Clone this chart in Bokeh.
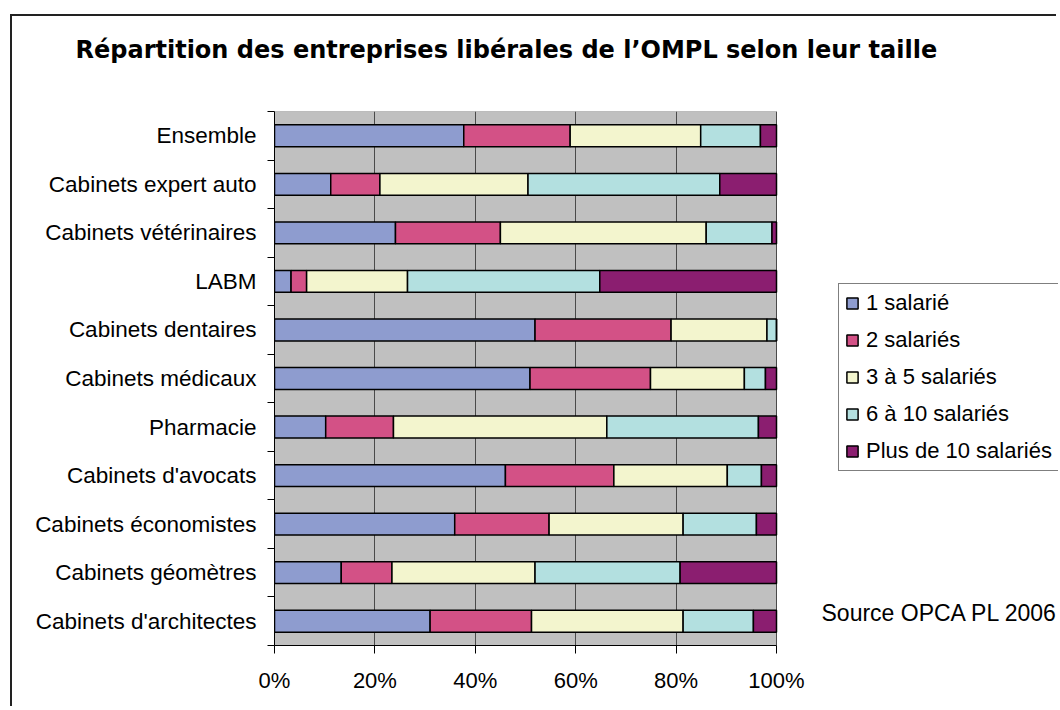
from bokeh.plotting import figure
from bokeh.models import (ColumnDataSource, Range1d, FixedTicker, Legend, LegendItem,
                          PrintfTickFormatter, Label, Title)
from bokeh.embed import file_html
from bokeh.resources import INLINE

title = "Répartition des entreprises libérales de l\u2019OMPL selon leur taille"
source_note = "Source OPCA PL 2006"

categories = ["Ensemble", "Cabinets expert auto", "Cabinets vétérinaires", "LABM",
              "Cabinets dentaires", "Cabinets médicaux", "Pharmacie", "Cabinets d'avocats",
              "Cabinets économistes", "Cabinets géomètres", "Cabinets d'architectes"]
series_names = ["1 salarié", "2 salariés", "3 à 5 salariés", "6 à 10 salariés", "Plus de 10 salariés"]
s1 = [37.7, 11.2, 24.1, 3.3, 51.9, 50.9, 10.2, 46.0, 35.9, 13.3, 31.0]
s2 = [21.2, 9.8, 20.9, 3.1, 27.1, 24.0, 13.5, 21.6, 18.8, 10.1, 20.2]
s3 = [26.0, 29.5, 41.0, 20.1, 19.1, 18.7, 42.5, 22.6, 26.7, 28.5, 30.2]
s4 = [11.9, 38.2, 13.1, 38.3, 1.9, 4.2, 30.2, 6.8, 14.6, 28.9, 14.0]
s5 = [3.2, 11.3, 0.9, 35.2, 0.0, 2.2, 3.6, 3.0, 4.0, 19.2, 4.6]
x_ticks = [0, 20, 40, 60, 80, 100]
colors = ["#8E9CCF", "#D35186", "#F3F5CE", "#B3E0E0", "#8B1E70"]

FONT = "Liberation Sans"
n = len(categories)
ypos = [n - 0.5 - i for i in range(n)]
keys = ["s1", "s2", "s3", "s4", "s5"]
src = ColumnDataSource(dict(y=ypos, cat=categories, s1=s1, s2=s2, s3=s3, s4=s4, s5=s5))

# layout (pixels)
W, H = 1046, 692
LEFT, TOP, BOTTOM = 262, 95, 63
PLOT_W = 502                      # width of the 0..100 % plot area
frame_w = W - LEFT
frame_h = H - TOP - BOTTOM
x_end = 100.0 * frame_w / PLOT_W  # frame extends right to hold legend and note

p = figure(width=W, height=H, x_range=Range1d(0, x_end), y_range=Range1d(0, n),
           output_backend="svg", toolbar_location=None, title=None,
           min_border_left=LEFT, min_border_right=0, min_border_top=TOP, min_border_bottom=BOTTOM)
p.margin = (14, 0, 0, 10)
p.styles = {"border-left": "2px solid #222", "border-top": "2px solid #222"}

# titles: spacer nearest the frame, then the real title
p.add_layout(Title(text=" ", text_font_size="10px", standoff=35), "above")
p.add_layout(Title(text=title, text_font="DejaVu Sans", text_font_size="24px",
                   text_font_style="bold", text_color="black", align="left",
                   offset=75 - 12 - LEFT, standoff=0), "above")

p.background_fill_color = "white"
p.border_fill_color = "white"
p.outline_line_color = None

# grey plot area
p.quad(left=[0], right=[100], bottom=[0], top=[n], fill_color="#C0C0C0",
       line_color="#8a8a8a", line_width=1, level="image")

renderers = p.hbar_stack(keys, y="y", height=0.45, color=colors, source=src,
                         line_color="black", line_width=1.5)

# grid
p.xgrid.ticker = FixedTicker(ticks=x_ticks)
p.xgrid.grid_line_color = "#4a4a4a"
p.xgrid.grid_line_width = 1
p.ygrid.grid_line_color = None

# x axis
p.xaxis.ticker = FixedTicker(ticks=x_ticks)
p.xaxis.bounds = (0, 100)
p.xaxis.formatter = PrintfTickFormatter(format="%d%%")
p.xaxis.axis_line_color = "black"
p.xaxis.major_tick_line_color = "black"
p.xaxis.major_tick_out = 8
p.xaxis.major_tick_in = 0
p.xaxis.minor_tick_line_color = None
p.xaxis.major_label_text_font = FONT
p.xaxis.major_label_text_font_size = "22px"
p.xaxis.major_label_text_color = "black"
p.xaxis.major_label_standoff = 14

# y axis: labels at centres, ticks at boundaries
p.yaxis.ticker = FixedTicker(ticks=ypos, minor_ticks=list(range(n + 1)))
p.yaxis.major_label_overrides = {y: c for y, c in zip(ypos, categories)}
p.yaxis.axis_line_color = "black"
p.yaxis.major_tick_line_color = None
p.yaxis.major_tick_out = 0
p.yaxis.major_tick_in = 0
p.yaxis.minor_tick_line_color = "black"
p.yaxis.minor_tick_out = 7
p.yaxis.minor_tick_in = 0
p.yaxis.major_label_text_font = FONT
p.yaxis.major_label_text_font_size = "22.5px"
p.yaxis.major_label_text_color = "black"
p.yaxis.major_label_standoff = 11

legend = Legend(items=[LegendItem(label=nm, renderers=[r]) for nm, r in zip(series_names, renderers)],
                location=(826 - LEFT, 629 - 455))
legend.label_text_font = FONT
legend.label_text_font_size = "22px"
legend.label_text_color = "black"
legend.glyph_width = 14
legend.glyph_height = 14
legend.label_width = 220
legend.label_standoff = 7
legend.spacing = 11
legend.padding = 6
legend.margin = 0
legend.border_line_color = "black"
legend.border_line_width = 1
legend.background_fill_color = "white"
legend.background_fill_alpha = 1
p.add_layout(legend)

# source note (position in plot units derived from pixel layout)
px_per_row = frame_h / n
p.add_layout(Label(x=100.0 * (809 - LEFT) / PLOT_W, y=(629 - 596) / px_per_row,
                   text=source_note, text_font=FONT, text_font_size="23px",
                   text_baseline="middle", text_align="left", text_color="black"))

open("out.html", "w").write(file_html(p, INLINE))
